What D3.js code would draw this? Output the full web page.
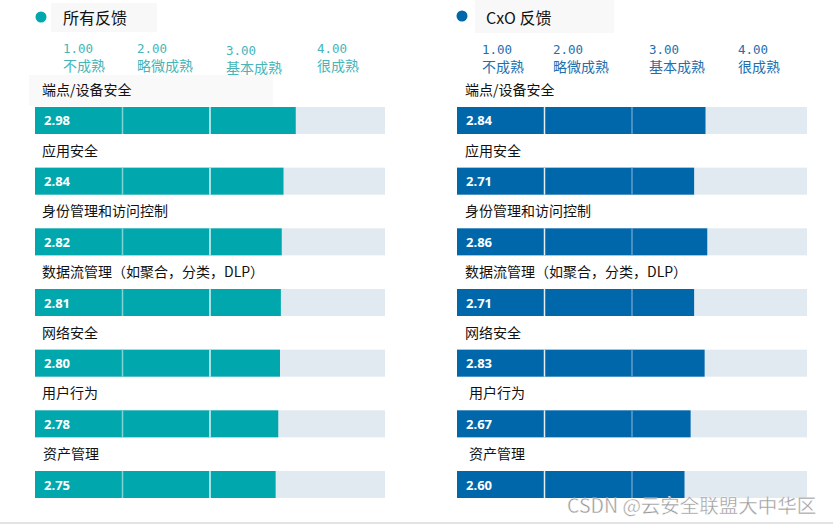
<!DOCTYPE html>
<html><head><meta charset="utf-8">
<script src="https://cdn.jsdelivr.net/npm/d3@7"></script>
<style>
html,body{margin:0;padding:0;background:#fff;}
svg{display:block;}
</style></head>
<body>
<svg id="c" width="833" height="524"></svg>
<script>
const categories = ["端点/设备安全","应用安全","身份管理和访问控制","数据流管理（如聚合，分类，DLP）","网络安全","用户行为","资产管理"];
const allValues = [2.98,2.84,2.82,2.81,2.80,2.78,2.75];
const cxoValues = [2.84,2.71,2.86,2.71,2.83,2.67,2.60];
const tickValues = ["1.00","2.00","3.00","4.00"];
const tickLabels = ["不成熟","略微成熟","基本成熟","很成熟"];
const seriesNames = ["所有反馈","CxO 反馈"];

const svg = d3.select("#c");
const CJK = "'Noto Sans CJK SC','Noto Sans',sans-serif";

const panels = [
  {name: seriesNames[0], values: allValues, x0: 35, x1: 385, color: "#00a8ae", tickColor: "#45b5b8",
   dot: [41,17], titleX: 63, titleBg: [51,3,106,29], tickX: [63,137,226,317], tickDy:[0,0,2,0], labelX: [42,42,42,42,42,42,43],
   divColors: ["#7fd3d5","#dff3f3"], labelBg: true},
  {name: seriesNames[1], values: cxoValues, x0: 457, x1: 807, color: "#0067ab", tickColor: "#1d6fae",
   dot: [462,16], titleX: 486, titleBg: [475,0,139,33], tickX: [482,553,649,738], tickDy:[1,1,1,1], labelX: [465,465,465,465,465,469,469],
   divColors: ["#e4eef6","#5f9cce"], labelBg: false}
];

const y = d3.scaleBand().domain(categories).range([107, 498]).paddingInner(0.555).paddingOuter(0);

panels.forEach(p => {
  const g = svg.append("g");
  const x = d3.scaleLinear().domain([0,4]).range([p.x0, p.x1]);

  // title
  g.append("rect").attr("x", p.titleBg[0]).attr("y", p.titleBg[1]).attr("width", p.titleBg[2]).attr("height", p.titleBg[3]).attr("fill", "#f8f8f8");
  g.append("circle").attr("cx", p.dot[0]).attr("cy", p.dot[1]).attr("r", 5.5).attr("fill", p.color);
  g.append("text").attr("x", p.titleX).attr("y", 24).attr("font-family", CJK).attr("font-size", 16).attr("fill", "#111").text(p.name);

  // tick header
  tickValues.forEach((t, i) => {
    g.append("text").attr("x", p.tickX[i]).attr("y", 53 + p.tickDy[i]).attr("font-family", "'DejaVu Sans Mono',monospace")
      .attr("font-size", 12.5).attr("fill", p.tickColor).text(t);
    g.append("text").attr("x", p.tickX[i]).attr("y", 71 + p.tickDy[i]).attr("font-family", CJK)
      .attr("font-size", 14).attr("fill", p.tickColor).text(tickLabels[i]);
  });

  if (p.labelBg) {
    g.append("rect").attr("x", 29).attr("y", 75).attr("width", 244).attr("height", 31).attr("fill", "#f9f9f9");
  }

  const rows = g.selectAll("g.row").data(categories).join("g").attr("class", "row");
  rows.append("text").attr("x", (d,i) => p.labelX[i]).attr("y", d => y(d) - 12)
    .attr("font-family", CJK).attr("font-size", 14).attr("fill", "#111").text(d => d);
  rows.append("rect").attr("x", x(0)).attr("y", d => y(d)).attr("width", x(4) - x(0)).attr("height", y.bandwidth()).attr("fill", "#e1e9f1");
  rows.append("rect").attr("x", x(0)).attr("y", d => y(d)).attr("width", (d,i) => x(p.values[i]) - x(0)).attr("height", y.bandwidth()).attr("fill", p.color);
  [1,2].forEach((v, k) => {
    rows.append("line").attr("x1", x(v)).attr("x2", x(v)).attr("y1", d => y(d)).attr("y2", d => y(d) + y.bandwidth())
      .attr("stroke", p.divColors[k]).attr("stroke-width", 1.5);
  });
  rows.append("text").attr("x", x(0) + 9).attr("y", d => y(d) + y.bandwidth()/2 + 5)
    .attr("font-family", "'Open Sans',sans-serif").attr("font-weight", "bold").attr("font-size", 13).attr("fill", "#fff")
    .text((d,i) => p.values[i].toFixed(2));
});

// watermark
svg.append("text").attr("x", 567).attr("y", 513).attr("font-family", CJK).attr("font-size", 19.5)
  .attr("fill", "#9a9a9a").attr("stroke", "#fff").attr("stroke-width", 0.4).text("CSDN @云安全联盟大中华区");
// bottom line
svg.append("rect").attr("x", 0).attr("y", 522).attr("width", 833).attr("height", 2).attr("fill", "#e3e3e3");
</script>
</body></html>
